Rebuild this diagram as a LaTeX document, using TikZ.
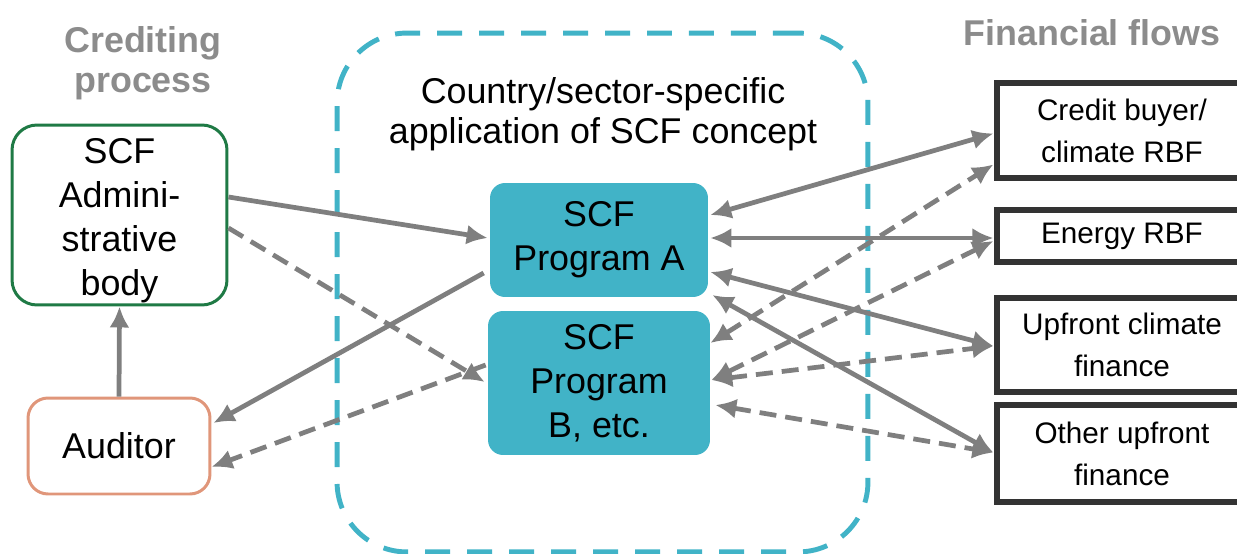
\documentclass[tikz,border=0pt]{standalone}
\usepackage{fontspec}
\setmainfont{Liberation Sans}
\usetikzlibrary{arrows.meta,calc}
\definecolor{scfteal}{HTML}{41B3C7}
\definecolor{scfgreen}{HTML}{1F7A45}
\definecolor{scforange}{HTML}{E0967A}
\definecolor{flowgray}{HTML}{7F7F7F}
\definecolor{titlegray}{HTML}{8C8C8C}
\definecolor{boxdark}{HTML}{333333}

\begin{document}
\begin{tikzpicture}[x=0.02cm, y=-0.02cm,
    txt/.style={font=\fontsize{20.4}{25}\selectfont, align=center, inner sep=0pt},
    heading/.style={font=\fontsize{20.4}{22.7}\selectfont\bfseries, text=titlegray, align=center, inner sep=0pt},
    admin/.style={draw=scfgreen, line width=1.7pt, rounded corners=0.5cm,
      minimum width=4.3cm, minimum height=3.6cm},
    audit/.style={txt, draw=scforange, line width=1.7pt, rounded corners=0.4cm,
      minimum width=3.64cm, minimum height=1.92cm},
    program/.style={txt, fill=scfteal, rounded corners=0.3cm, minimum width=4.36cm},
    finbox/.style={font=\fontsize{16.9}{23.8}\selectfont, align=center, inner sep=0pt,
      draw=boxdark, line width=3pt, minimum width=5cm},
    flow/.style={draw=flowgray, line width=2.7pt, -{Latex[length=0.42cm,width=0.4cm]}},
    flowboth/.style={flow, {Latex[length=0.42cm,width=0.4cm]}-{Latex[length=0.42cm,width=0.4cm]}},
    flowdash/.style={dash pattern=on 0.34cm off 0.18cm}
  ]
  \useasboundingbox (0,0) rectangle (1237,554);

  %%% crediting process %%%
  \node[heading] (credtitle) at (143,63) {Crediting\\process};
  \node[admin] (adm) at (119.5,215) {};
  \node[txt] (admtext) at ($(adm.center)+(0,6)$) {SCF\\Admini-\\strative\\body};
  \node[audit] (aud) at (119,446) {Auditor};

  %%% country / sector application %%%
  \node[draw=scfteal, line width=2.8pt, dash pattern=on 0.5cm off 0.34cm,
    rounded corners=1.4cm, minimum width=10.62cm, minimum height=10.38cm] (country) at (602.5,292.5) {};
  \node[txt, font=\fontsize{20.4}{22.7}\selectfont] (countrytitle) at (603,114)
    {Country/sector-specific\\application of SCF concept};
  \node[program, minimum height=2.28cm] (proga) at (599,240) {SCF\\Program A};
  \node[program, minimum width=4.44cm, minimum height=2.88cm] (progb) at (599,383) {SCF\\Program\\B, etc.};

  %%% financial flows %%%
  \node[heading] (fintitle) at (1092,33) {Financial flows};
  \node[finbox, minimum height=1.9cm] (cb) at (1122,130.5) {Credit buyer/\\climate RBF};
  \node[finbox, minimum height=1.04cm] (en) at (1122,236) {Energy RBF};
  \node[finbox, minimum height=1.88cm] (uc) at (1122,345) {Upfront climate\\finance};
  \node[finbox, minimum height=1.94cm] (ot) at (1122,453.5) {Other upfront\\finance};

  %% left side
  \draw[flow] ($(adm.east)+(0,-18)$) -- ($(proga.west)+(-2,-2)$);
  \draw[flow, flowdash] ($(adm.east)+(0,13)$) -- ($(progb.west)+(-3,-1)$);
  \draw[flow] ($(proga.west)+(-6,33)$) -- ($(aud.east)+(2,-23)$);
  \draw[flow, flowdash] ($(progb.west)+(-2,-18)$) -- ($(aud.east)+(0,21)$);
  \draw[flow] (aud.north) -- (adm.south);

  %% right side
  \draw[flowboth] ($(proga.east)+(2,-25)$) -- ($(cb.west)+(-1,3)$);
  \draw[flowboth] ($(proga.east)+(2,-2)$) -- ($(en.west)+(-1,2)$);
  \draw[flowboth] ($(proga.east)+(2,32)$) -- ($(uc.west)+(-1,1)$);
  \draw[flowboth] ($(proga.east)+(4,55)$) -- ($(ot.west)+(-1,-1)$);
  \draw[flowboth, flowdash] ($(progb.east)+(0,-40)$) -- ($(cb.west)+(-1,34)$);
  \draw[flowboth, flowdash] ($(progb.east)+(1,-3)$) -- ($(en.west)+(-1,5)$);
  \draw[flowboth, flowdash] ($(progb.east)+(1,-3)$) -- ($(uc.west)+(-1,1)$);
  \draw[flowboth, flowdash] ($(progb.east)+(5,22)$) -- ($(ot.west)+(-1,-1)$);

\end{tikzpicture}
\end{document}
